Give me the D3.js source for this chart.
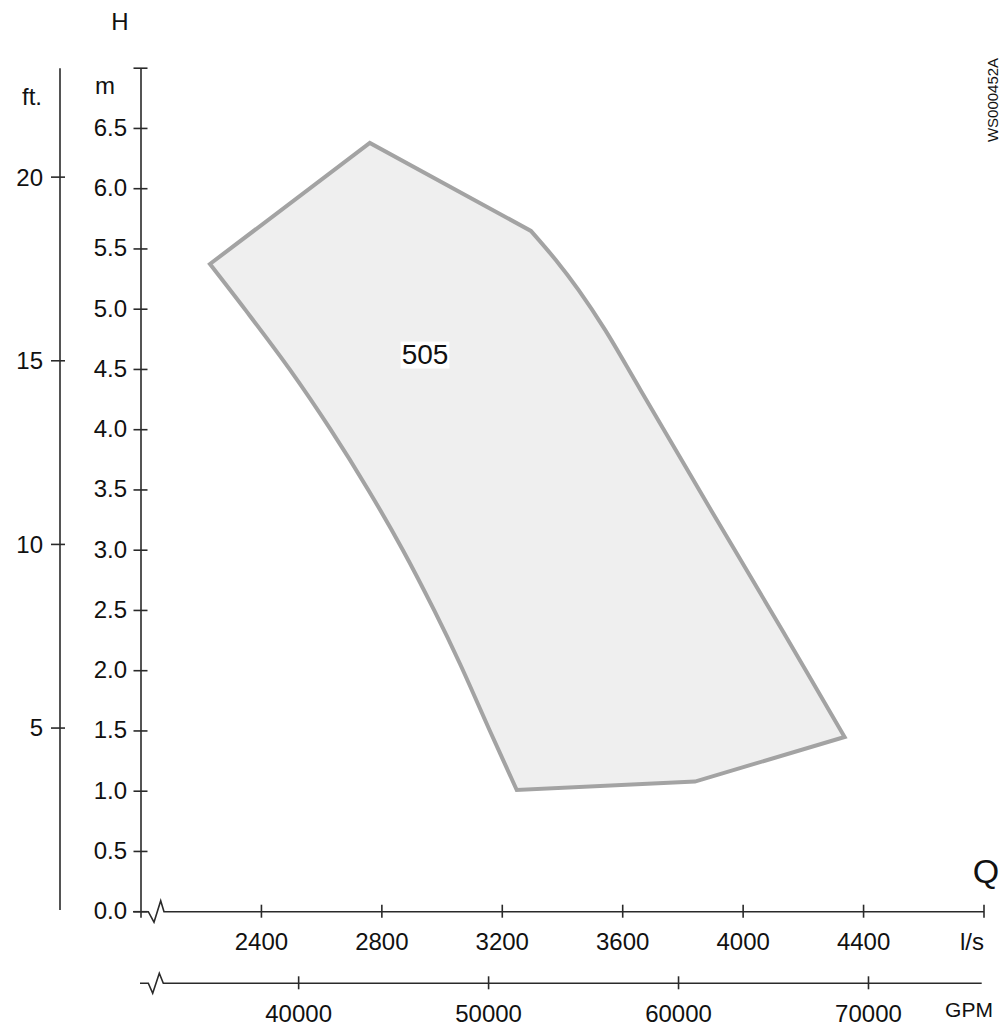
<!DOCTYPE html>
<html><head><meta charset="utf-8">
<script src="https://cdn.jsdelivr.net/npm/d3@7"></script>
<style>body{margin:0;background:#fff}svg text{font-family:"Liberation Sans",Arial,sans-serif;fill:#111}</style>
</head><body>
<svg id="c" width="1007" height="1028"></svg>
<script>
// ---- data ----
const mTicks = [0,0.5,1,1.5,2,2.5,3,3.5,4,4.5,5,5.5,6,6.5];
const ftTicks = [5,10,15,20];
const lsTicks = [2400,2800,3200,3600,4000,4400];
const gpmTicks = [40000,50000,60000,70000];
const pumpLabel = "505";
// envelope of the 505 pump (Q in l/s, H in m)
const topEdge = [[2229,5.375],[2760,6.38],[3295,5.65]];
const rightEdge = [[3295,5.65],[3377,5.41],[3453,5.16],[3541,4.83],[3659,4.33],[3894,3.33],[4129,2.34],[4337,1.45]];
const bottomEdge = [[4337,1.45],[3840,1.08],[3248,1.01]];
const leftEdge = [[3248,1.01],[3159,1.50],[3059,2.06],[2974,2.50],[2870,3.00],[2755,3.50],[2630,4.00],[2494,4.50],[2348,4.99],[2229,5.375]];

const svg = d3.select("#c");
const x = d3.scaleLinear().domain([2000,4800]).range([141,984]);
const y = d3.scaleLinear().domain([0,7]).range([911.7,68.2]);
const ft = d3.scaleLinear().domain([0,7/0.3048]).range([y(0),y(7)]);
const GPM_PER_LS = 15.850323;
const gx = d3.scaleLinear().domain([2000*GPM_PER_LS,4800*GPM_PER_LS]).range([141,984]);
const axisCol = "#2a2a2a";
const FS = 24;

// ---- envelope ----
const lin = d3.line().x(d=>x(d[0])).y(d=>y(d[1]));
const cur = d3.line().x(d=>x(d[0])).y(d=>y(d[1])).curve(d3.curveCatmullRom.alpha(0.5));
let p = lin(topEdge) + cur(rightEdge).replace(/^M/,"L") + lin(bottomEdge).replace(/^M/,"L") + cur(leftEdge).replace(/^M/,"L") + "Z";
svg.append("path").attr("d",p).attr("fill","#efefef").attr("stroke","#a3a3a3").attr("stroke-width",4).attr("stroke-linejoin","miter");

// label 505
const lab = svg.append("g");
const lt = lab.append("text").attr("x",425).attr("y",y(4.63)).attr("dy","0.35em").attr("text-anchor","middle").attr("font-size",28).text(pumpLabel);
const bb = lt.node().getBBox();
lab.insert("rect","text").attr("x",bb.x-1).attr("y",bb.y+3).attr("width",bb.width+2).attr("height",bb.height-4).attr("fill","#fff");

// ---- m axis ----
const ym = svg.append("g");
ym.append("line").attr("x1",x(2000)).attr("x2",x(2000)).attr("y1",y(7)).attr("y2",y(0)+6).attr("stroke",axisCol).attr("stroke-width",1.6);
ym.selectAll("line.t").data(mTicks.concat([7])).join("line").attr("class","t")
  .attr("x1",133.5).attr("x2",147.5).attr("y1",d=>y(d)).attr("y2",d=>y(d)).attr("stroke",axisCol).attr("stroke-width",1.6);
ym.selectAll("text").data(mTicks).join("text").attr("x",127).attr("y",d=>y(d)-1).attr("dy","0.35em")
  .attr("text-anchor","end").attr("font-size",FS).text(d=>d.toFixed(1));
svg.append("text").attr("x",105).attr("y",86).attr("dy","0.35em").attr("text-anchor","middle").attr("font-size",FS).text("m");

// ---- ft axis ----
const yf = svg.append("g");
yf.append("line").attr("x1",60).attr("x2",60).attr("y1",y(7)).attr("y2",910).attr("stroke",axisCol).attr("stroke-width",1.6);
yf.selectAll("line.t").data(ftTicks).join("line").attr("class","t")
  .attr("x1",51).attr("x2",65).attr("y1",d=>ft(d)).attr("y2",d=>ft(d)).attr("stroke",axisCol).attr("stroke-width",1.6);
yf.selectAll("text").data(ftTicks).join("text").attr("x",43).attr("y",d=>ft(d)).attr("dy","0.35em")
  .attr("text-anchor","end").attr("font-size",FS).text(d=>d);
svg.append("text").attr("x",32).attr("y",97).attr("dy","0.35em").attr("text-anchor","middle").attr("font-size",FS).text("ft.");
svg.append("text").attr("x",120).attr("y",22).attr("dy","0.35em").attr("text-anchor","middle").attr("font-size",FS).text("H");

// ---- l/s axis ----
const y0 = y(0);
const xa = svg.append("g");
xa.append("path").attr("fill","none").attr("stroke",axisCol).attr("stroke-width",1.6)
  .attr("d",`M133,${y0}L148.3,${y0}L154,${y0+10.5}L160.7,${y0-11}L164,${y0}L${x(4800)},${y0}`);
xa.selectAll("line.t").data(lsTicks.concat([4800])).join("line").attr("class","t")
  .attr("x1",d=>x(d)).attr("x2",d=>x(d)).attr("y1",y0-7).attr("y2",y0+6).attr("stroke",axisCol).attr("stroke-width",1.6);
xa.selectAll("text").data(lsTicks).join("text").attr("x",d=>x(d)).attr("y",950)
  .attr("text-anchor","middle").attr("font-size",FS).text(d=>d);
svg.append("text").attr("x",972).attr("y",950).attr("text-anchor","middle").attr("font-size",FS).text("l/s");
svg.append("text").attr("x",986).attr("y",883).attr("text-anchor","middle").attr("font-size",34).text("Q");

// ---- GPM axis ----
const gy = 983.3;
const ga = svg.append("g");
ga.append("path").attr("fill","none").attr("stroke",axisCol).attr("stroke-width",1.6)
  .attr("d",`M140,${gy}L148.3,${gy}L152.7,${gy+10}L159.3,${gy-10}L163.3,${gy}L981.7,${gy}`);
ga.selectAll("line.t").data(gpmTicks).join("line").attr("class","t")
  .attr("x1",d=>gx(d)).attr("x2",d=>gx(d)).attr("y1",gy-7).attr("y2",gy+6).attr("stroke",axisCol).attr("stroke-width",1.6);
ga.selectAll("text").data(gpmTicks).join("text").attr("x",d=>gx(d)).attr("y",1022)
  .attr("text-anchor","middle").attr("font-size",FS).text(d=>d);
svg.append("text").attr("x",969).attr("y",1017).attr("text-anchor","middle").attr("font-size",21).text("GPM");

// ---- drawing id ----
svg.append("text").attr("transform","translate(998,100) rotate(-90)").attr("text-anchor","middle").attr("font-size",15).text("WS000452A");
</script>
</body></html>
